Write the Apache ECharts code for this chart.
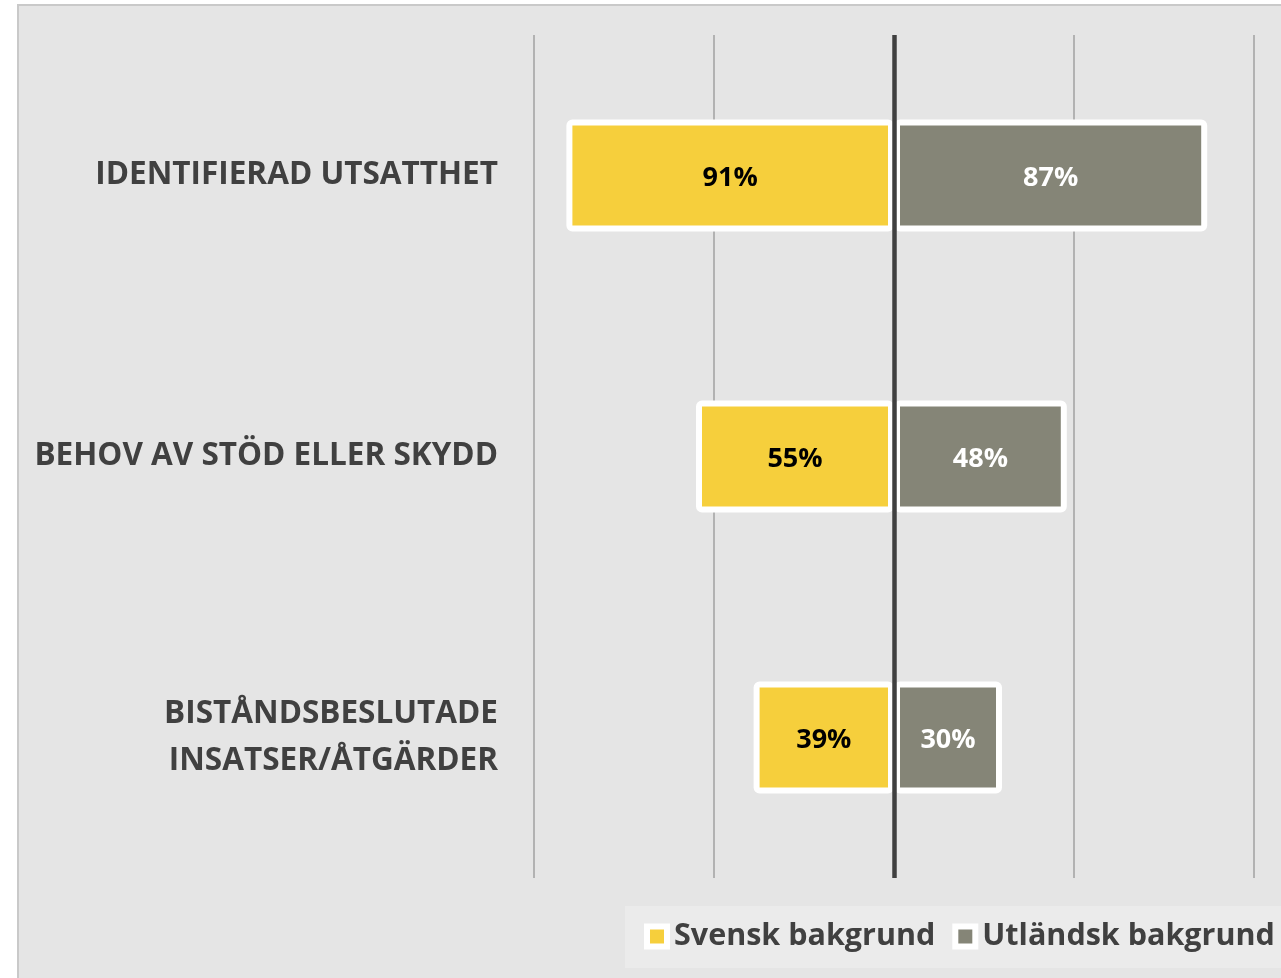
<!DOCTYPE html>
<html>
<head>
<meta charset="utf-8">
<script src="https://cdn.jsdelivr.net/npm/echarts@6/dist/echarts.min.js"></script>
<style>html,body{margin:0;padding:0;background:#fff}#c{width:1281px;height:978px}</style>
</head>
<body>
<div id="c"></div>
<script>
var categories = ['IDENTIFIERAD UTSATTHET', 'BEHOV AV STÖD ELLER SKYDD', 'BISTÅNDSBESLUTADE\nINSATSER/ÅTGÄRDER'];
var svensk = [91, 55, 39];
var utlandsk = [87, 48, 30];
var seriesNames = ['Svensk bakgrund', 'Utländsk bakgrund'];
var FONT = '"Open Sans", sans-serif';

var chart = echarts.init(document.getElementById('c'));
chart.setOption({
  backgroundColor: '#ffffff',
  animation: false,
  graphic: [{
    type: 'rect', z: -10, silent: true,
    shape: { x: 18, y: 5, width: 1400, height: 1100 },
    style: { fill: '#e5e5e5', stroke: '#c9c9c9', lineWidth: 2 }
  }],
  grid: { left: 534, right: 27, top: 35, bottom: 100 },
  legend: {
    data: seriesNames,
    left: 625, top: 906, width: 900,
    orient: 'horizontal',
    backgroundColor: '#ebebeb',
    padding: [15, 10, 16, 19],
    itemGap: 17,
    itemWidth: 20, itemHeight: 20,
    icon: 'rect',
    itemStyle: { borderColor: '#ffffff', borderWidth: 6 },
    textStyle: { fontFamily: FONT, fontSize: 30.5, fontWeight: 'bold', color: '#404040', padding: [0, 0, 0, 2] }
  },
  xAxis: {
    type: 'value', min: -100, max: 100, interval: 50,
    axisLabel: { show: false }, axisTick: { show: false }, axisLine: { show: false },
    splitLine: { show: true, lineStyle: { color: '#a0a0a0', width: 1.5 } }
  },
  yAxis: {
    type: 'category', inverse: true, data: categories,
    axisLine: { show: false }, axisTick: { show: false },
    axisLabel: { margin: 36, fontFamily: FONT, fontSize: 31.5, fontWeight: 'bold', color: '#404040', lineHeight: 47, align: 'right', padding: [4, 0, 0, 0] }
  },
  series: [{
    name: seriesNames[0], type: 'bar', barWidth: 112, barGap: '-100%',
    data: svensk.map(function (v) { return -v; }),
    itemStyle: { color: '#f6cf3c', borderColor: '#ffffff', borderWidth: 6, borderRadius: 3 },
    label: { show: true, position: 'inside', offset: [0, 3], formatter: function (p) { return Math.abs(p.value) + '%'; },
      fontFamily: FONT, fontSize: 27, fontWeight: 'bold', color: '#000000' }
  }, {
    name: seriesNames[1], type: 'bar', barWidth: 112, barGap: '-100%',
    data: utlandsk,
    itemStyle: { color: '#858577', borderColor: '#ffffff', borderWidth: 6, borderRadius: 3 },
    label: { show: true, position: 'inside', offset: [0, 3], formatter: function (p) { return Math.abs(p.value) + '%'; },
      fontFamily: FONT, fontSize: 27, fontWeight: 'bold', color: '#ffffff' },
    markLine: {
      silent: true, symbol: 'none', z: 10, animation: false,
      label: { show: false },
      lineStyle: { color: '#404040', width: 4.5, type: 'solid' },
      data: [{ xAxis: 0 }]
    }
  }]
});
</script>
</body>
</html>
